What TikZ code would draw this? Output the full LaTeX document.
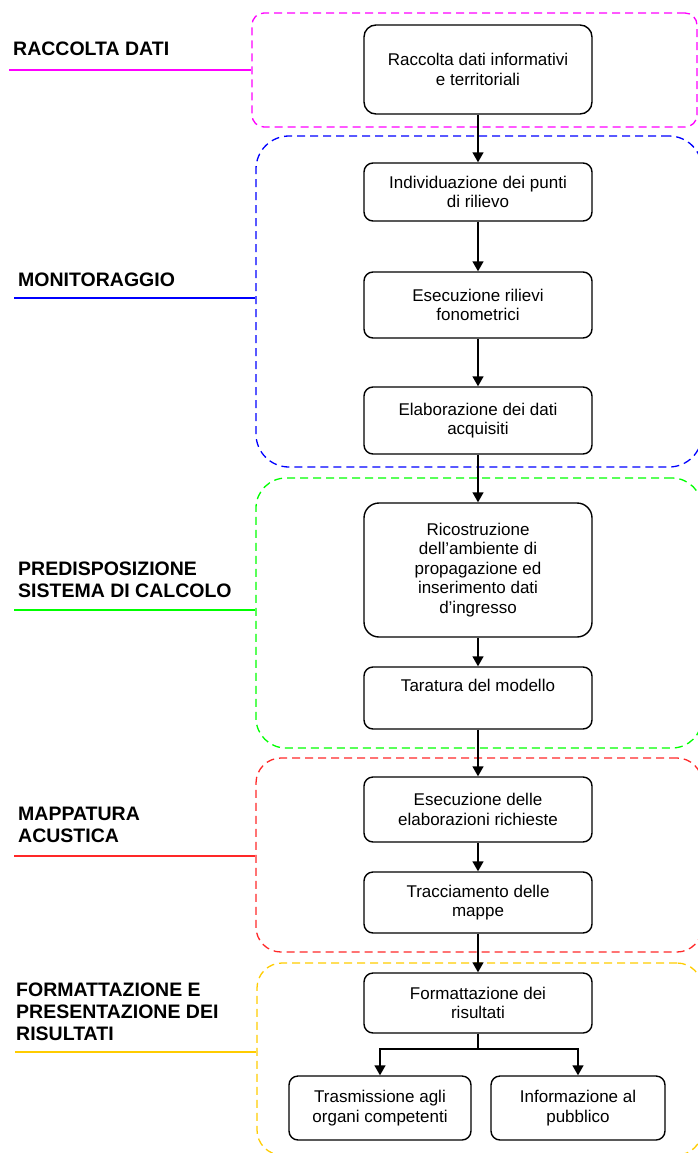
\documentclass[tikz,border=0pt]{standalone}
\usepackage{fontspec}
\setmainfont{Liberation Sans}
\usetikzlibrary{arrows.meta,calc}
\definecolor{cmag}{RGB}{255,0,255}
\definecolor{cblue}{RGB}{0,0,255}
\definecolor{cgreen}{RGB}{0,255,0}
\definecolor{cred}{RGB}{255,40,40}
\definecolor{cyel}{RGB}{255,204,0}
\begin{document}
\begin{tikzpicture}[x=1pt,y=-1pt,
  proc/.style={draw, line width=1.4pt, rounded corners=9pt, align=center, inner sep=0pt,
    font=\fontsize{17}{19.5}\selectfont, minimum width=228pt},
  grp/.style={draw, dash pattern=on 8pt off 5pt, line width=1.3pt, inner sep=0pt},
  lbl/.style={anchor=north west, inner sep=0pt, align=left,
    font=\fontsize{19.5}{22}\selectfont\bfseries},
  arr/.style={line width=1.4pt, -{Triangle[length=10pt,width=11pt]}},
  lline/.style={line width=1.3pt}]
\useasboundingbox (0,0) rectangle (698,1153);
\clip (0,0) rectangle (698,1153);

% groups
\node[grp, draw=cmag, rounded corners=12pt, minimum width=445pt, minimum height=114pt] (g1) at (474.5,70) {};
\node[grp, draw=cblue, rounded corners=33pt, minimum width=446pt, minimum height=331pt] (g2) at (479,301.5) {};
\node[grp, draw=cgreen, rounded corners=30pt, minimum width=446pt, minimum height=270pt] (g3) at (479,613) {};
\node[grp, draw=cred, rounded corners=25pt, minimum width=446pt, minimum height=194pt] (g4) at (479,855) {};
\node[grp, draw=cyel, rounded corners=25pt, minimum width=445pt, minimum height=192pt] (g5) at (479.5,1059) {};

% labels
\node[lbl] (l1) at (13,42) {RACCOLTA DATI};
\node[lbl] (l2) at (18,273) {MONITORAGGIO};
\node[lbl] (l3) at (18,562) {PREDISPOSIZIONE\\SISTEMA DI CALCOLO};
\node[lbl] (l4) at (18,807) {MAPPATURA\\ACUSTICA};
\node[lbl] (l5) at (16,983) {FORMATTAZIONE E\\PRESENTAZIONE DEI\\RISULTATI};

\coordinate (c1) at (9,70);
\coordinate (c2) at (14,298);
\coordinate (c3) at (14,610);
\coordinate (c4) at (14,856);
\coordinate (c5) at (15,1052);
\draw[lline, cmag] (c1) -- (c1 -| g1.west);
\draw[lline, cblue] (c2) -- (c2 -| g2.west);
\draw[lline, cgreen] (c3) -- (c3 -| g3.west);
\draw[lline, cred] (c4) -- (c4 -| g4.west);
\draw[lline, cyel] (c5) -- (c5 -| g5.west);

% process boxes
\node[proc, rounded corners=12pt, minimum height=89pt] (b1) at (478,69.5) {Raccolta dati informativi\\e territoriali};
\node[proc, minimum height=58pt] (b2) at (478,192) {Individuazione dei punti\\di rilievo};
\node[proc, minimum height=66pt] (b3) at (478,305) {Esecuzione rilievi\\fonometrici};
\node[proc, minimum height=67pt] (b4) at (478,420.5) {Elaborazione dei dati\\acquisiti};
\node[proc, rounded corners=15pt, minimum height=134pt] (b5) at (478,570) {Ricostruzione\\dell’ambiente di\\propagazione ed\\inserimento dati\\d’ingresso};
\node[proc, minimum height=62pt] (b6) at (478,698) {Taratura del modello\\\strut};
\node[proc, minimum height=65pt] (b7) at (478,809.5) {Esecuzione delle\\elaborazioni richieste};
\node[proc, minimum height=61pt] (b8) at (478,902.5) {Tracciamento delle\\mappe};
\node[proc, minimum height=60pt] (b9) at (478,1003) {Formattazione dei\\risultati};
\node[proc, minimum width=182pt, minimum height=64pt] (b10) at (380,1108) {Trasmissione agli\\organi competenti};
\node[proc, minimum width=174pt, minimum height=64pt] (b11) at (578,1108) {Informazione al\\pubblico};

% connectors
\draw[arr] (b1) -- (b2);
\draw[arr] (b2) -- (b3);
\draw[arr] (b3) -- (b4);
\draw[arr] (b4) -- (b5);
\draw[arr] (b5) -- (b6);
\draw[arr] (b6) -- (b7);
\draw[arr] (b7) -- (b8);
\draw[arr] (b8) -- (b9);
\coordinate (br) at (478,1049);
\draw[arr] (b9.south) -- (br) -| (b10.north);
\draw[arr] (b9.south) -- (br) -| (b11.north);
\end{tikzpicture}
\end{document}
